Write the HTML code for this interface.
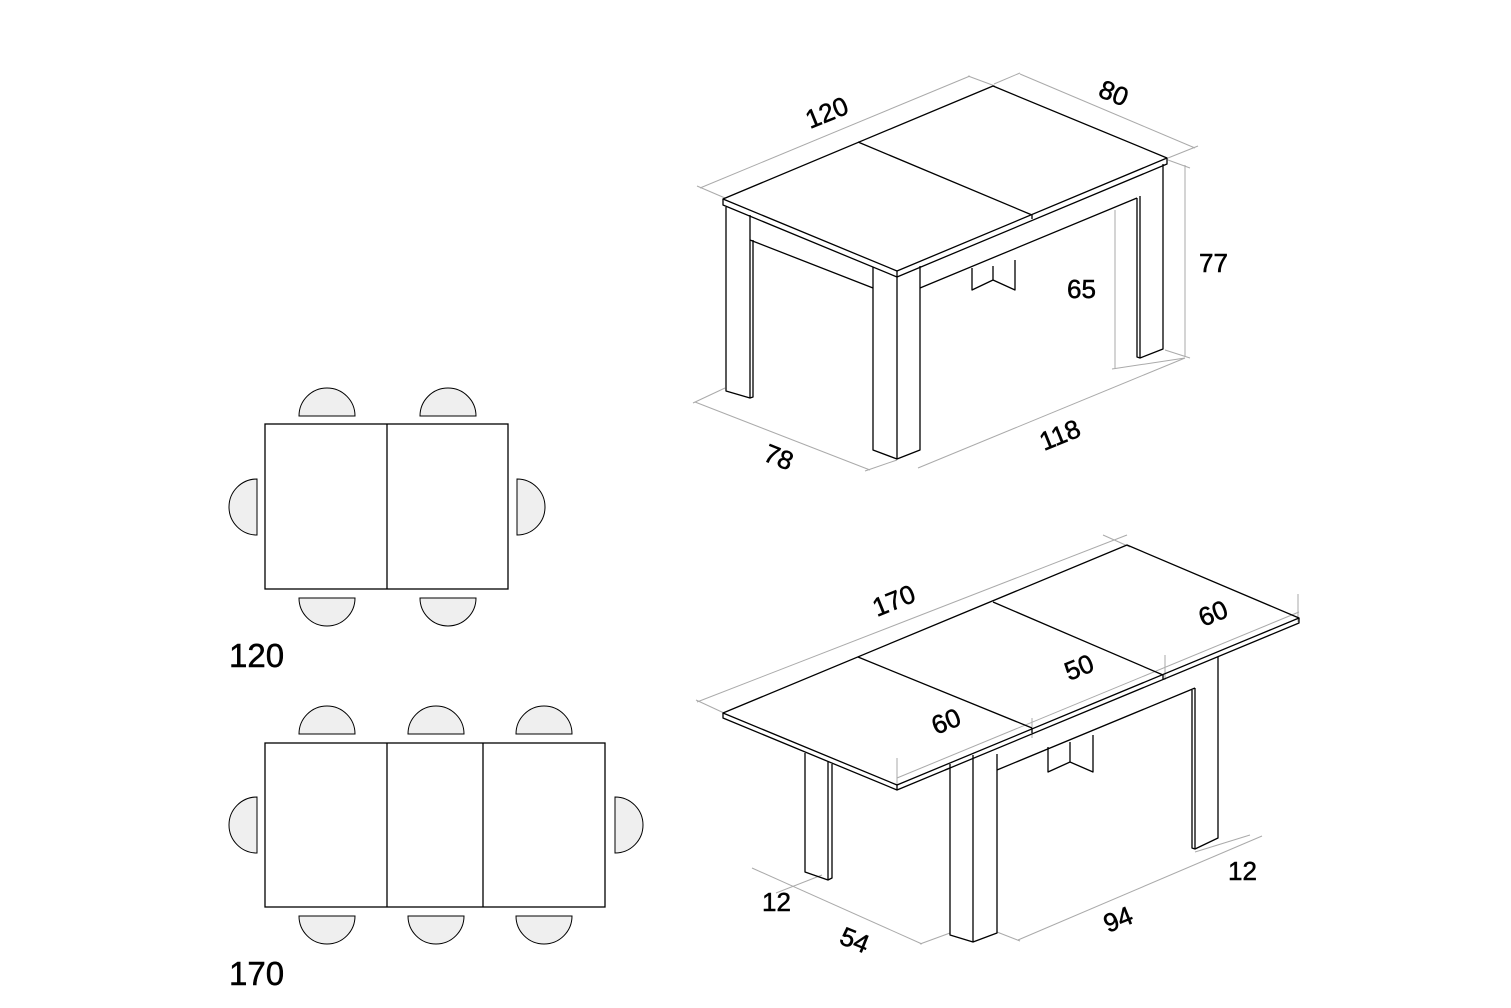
<!DOCTYPE html>
<html><head><meta charset="utf-8"><style>
html,body{margin:0;padding:0;background:#fff}
svg{display:block}
text{font-family:"Liberation Sans",sans-serif;fill:#000;stroke:#000;stroke-width:0.5}
</style></head><body>
<svg width="1511" height="1008" viewBox="0 0 1511 1008" xmlns="http://www.w3.org/2000/svg">
<g fill="none" stroke="#000" stroke-width="1.3">
<rect x="265" y="424" width="243" height="165"/>
<line x1="387" y1="424" x2="387" y2="589"/>
<rect x="265" y="743" width="340" height="164"/>
<line x1="387" y1="743" x2="387" y2="907"/>
<line x1="483" y1="743" x2="483" y2="907"/>
</g>
<g fill="#efefef" stroke="#000" stroke-width="1">
<path d="M299,416 A28,28 0 0 1 355,416 Z"/>
<path d="M420,416 A28,28 0 0 1 476,416 Z"/>
<path d="M299,598 A28,28 0 0 0 355,598 Z"/>
<path d="M420,598 A28,28 0 0 0 476,598 Z"/>
<path d="M257,479 A28,28 0 0 0 257,535 Z"/>
<path d="M517,479 A28,28 0 0 1 517,535 Z"/>
<path d="M299,734 A28,28 0 0 1 355,734 Z"/>
<path d="M408,734 A28,28 0 0 1 464,734 Z"/>
<path d="M516,734 A28,28 0 0 1 572,734 Z"/>
<path d="M299,916 A28,28 0 0 0 355,916 Z"/>
<path d="M408,916 A28,28 0 0 0 464,916 Z"/>
<path d="M516,916 A28,28 0 0 0 572,916 Z"/>
<path d="M257,797 A28,28 0 0 0 257,853 Z"/>
<path d="M615,797 A28,28 0 0 1 615,853 Z"/>
</g>
<text x="229" y="667" font-size="33">120</text>
<text x="229" y="985" font-size="33">170</text>

<g stroke="#aaa" stroke-width="1" fill="none">
<line x1="700" y1="188" x2="970" y2="76"/>
<line x1="697" y1="186" x2="725" y2="198"/>
<line x1="968" y1="76" x2="995" y2="86"/>
<line x1="1020" y1="74" x2="1195" y2="148"/>
<line x1="994" y1="84" x2="1020" y2="73"/>
<line x1="1168" y1="158" x2="1198" y2="146"/>
<line x1="1185" y1="165" x2="1185" y2="357"/>
<line x1="1168" y1="160" x2="1190" y2="168"/>
<line x1="1165" y1="350" x2="1190" y2="358"/>
<line x1="1115" y1="210" x2="1115" y2="368"/>
<line x1="1112" y1="369" x2="1185" y2="358"/>
<line x1="695" y1="402" x2="870" y2="470"/>
<line x1="693" y1="403" x2="725" y2="388"/>
<line x1="865" y1="471" x2="897" y2="460"/>
<line x1="918" y1="468" x2="1185" y2="358"/>
</g>
<g stroke="#000" stroke-width="1.3" fill="none" stroke-linejoin="round">
<path d="M723,199 L993,86 L1167,158 L897,271 Z"/>
<path d="M723,199 L723,205 L897,277 L1167,164 L1167,158"/>
<line x1="897" y1="271" x2="897" y2="277"/>
<line x1="858" y1="142" x2="1032" y2="215"/>
<line x1="1032" y1="215" x2="1032" y2="219"/>
<path d="M726,207 L726,391 L750,398 L753,397 L753,240"/>
<line x1="750" y1="215" x2="750" y2="398"/>
<line x1="750" y1="240" x2="873" y2="288"/>
<path d="M873,267 L873,450 L897,459 L920,450 L920,266"/>
<line x1="897" y1="277" x2="897" y2="459"/>
<line x1="920" y1="288" x2="1137" y2="198"/>
<path d="M1137,198 L1137,357 L1140,358 L1163,349 L1163,164"/>
<line x1="1140" y1="196" x2="1140" y2="358"/>
<path d="M972,268 L972,290 L993,280 L1015,290 L1015,260"/>
<line x1="993" y1="266" x2="993" y2="280"/>
</g>
<text font-size="26" transform="translate(810,129) rotate(-22)">120</text>
<text font-size="26" transform="translate(1097,96) rotate(22)">80</text>
<text x="1199" y="272" font-size="26">77</text>
<text x="1067" y="298" font-size="26">65</text>
<text font-size="26" transform="translate(762,460) rotate(22)">78</text>
<text font-size="26" transform="translate(1044,451) rotate(-22)">118</text>

<g stroke="#aaa" stroke-width="1" fill="none">
<line x1="697" y1="702" x2="1127" y2="535"/>
<line x1="696" y1="700" x2="724" y2="713"/>
<line x1="1103" y1="535" x2="1130" y2="547"/>
<line x1="897" y1="778" x2="1299" y2="612"/>
<line x1="897" y1="758" x2="897" y2="790"/>
<line x1="1032" y1="718" x2="1032" y2="738"/>
<line x1="1165" y1="655" x2="1165" y2="680"/>
<line x1="1298" y1="594" x2="1298" y2="622"/>
<line x1="752" y1="868" x2="922" y2="944"/>
<line x1="776" y1="893" x2="822" y2="875"/>
<line x1="920" y1="944" x2="950" y2="933"/>
<line x1="1018" y1="940" x2="1262" y2="836"/>
<line x1="997" y1="932" x2="1020" y2="941"/>
<line x1="1195" y1="852" x2="1250" y2="835"/>
</g>
<g stroke="#000" stroke-width="1.3" fill="none" stroke-linejoin="round">
<path d="M723,713 L1127,545 L1299,618 L897,785 Z"/>
<path d="M723,713 L723,718 L897,790 L1299,623 L1299,618"/>
<line x1="897" y1="785" x2="897" y2="790"/>
<line x1="858" y1="657" x2="1032" y2="728"/>
<line x1="1032" y1="728" x2="1032" y2="733"/>
<line x1="993" y1="602" x2="1163" y2="675"/>
<line x1="1163" y1="675" x2="1163" y2="680"/>
<path d="M805,753 L805,872 L828,880 L832,878 L832,764"/>
<line x1="828" y1="762" x2="828" y2="880"/>
<path d="M950,764 L950,935 L973,942 L997,933 L997,754"/>
<line x1="973" y1="755" x2="973" y2="942"/>
<line x1="945" y1="770" x2="950" y2="768"/>
<line x1="997" y1="770" x2="1195" y2="688"/>
<path d="M1192,690 L1192,848 L1195,849 L1218,838 L1218,657"/>
<line x1="1195" y1="688" x2="1195" y2="849"/>
<path d="M1048,747 L1048,772 L1070,762 L1093,772 L1093,735"/>
<line x1="1070" y1="742" x2="1070" y2="762"/>
</g>
<text font-size="26" transform="translate(877,617) rotate(-22)">170</text>
<text font-size="26" transform="translate(1203,627) rotate(-22)">60</text>
<text font-size="26" transform="translate(1069,681) rotate(-22)">50</text>
<text font-size="26" transform="translate(936,735) rotate(-22)">60</text>
<text x="762" y="911" font-size="26">12</text>
<text font-size="26" transform="translate(838,943) rotate(22)">54</text>
<text font-size="26" transform="translate(1108,933) rotate(-22)">94</text>
<text x="1228" y="880" font-size="26">12</text>
</svg>
</body></html>
